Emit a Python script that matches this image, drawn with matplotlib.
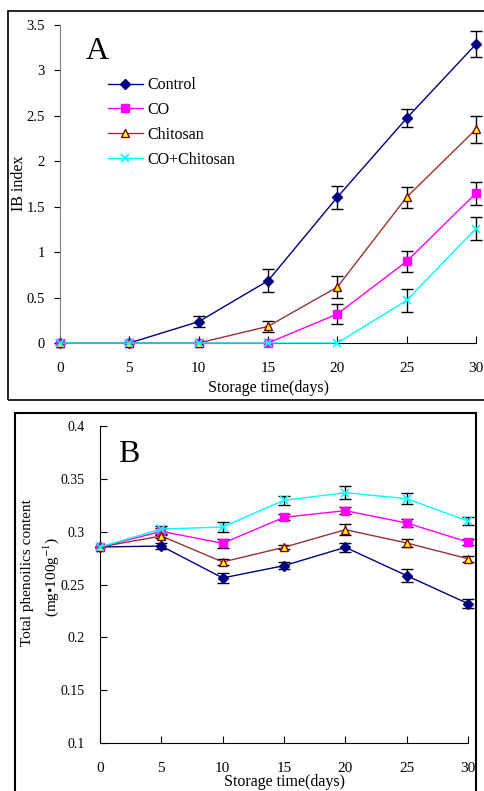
import numpy as np
import matplotlib
matplotlib.use('Agg')
import matplotlib.pyplot as plt
from matplotlib.patches import Rectangle

plt.rcParams['font.family'] = ['Liberation Serif', 'DejaVu Serif']
plt.rcParams['mathtext.fontset'] = 'stix'

days = [0, 5, 10, 15, 20, 25, 30]
labels = ['Control', 'CO', 'Chitosan', 'CO+Chitosan']

# panel A: IB index
ib_control = [0, 0, 0.235, 0.685, 1.605, 2.474, 3.29]
ib_co = [0, 0, 0, 0, 0.319, 0.898, 1.649]
ib_chitosan = [0, 0, 0, 0.183, 0.616, 1.605, 2.353]
ib_combo = [0, 0, 0, 0, 0, 0.469, 1.26]
ib_control_err = [0, 0, 0.064, 0.128, 0.125, 0.10, 0.147]
ib_co_err = [0, 0, 0, 0, 0.106, 0.114, 0.126]
ib_chitosan_err = [0, 0, 0, 0.06, 0.12, 0.114, 0.15]
ib_combo_err = [0, 0, 0, 0, 0, 0.128, 0.13]

# panel B: total phenolics
tp_control = [0.2855, 0.2864, 0.2562, 0.2678, 0.2852, 0.2584, 0.2319]
tp_co = [0.2855, 0.3003, 0.289, 0.3136, 0.3199, 0.3082, 0.2902]
tp_chitosan = [0.2855, 0.2959, 0.2713, 0.2852, 0.3019, 0.2893, 0.2744]
tp_combo = [0.2855, 0.3025, 0.3044, 0.3297, 0.3369, 0.3312, 0.3101]
tp_control_err = [0, 0.0025, 0.005, 0.0035, 0.0044, 0.006, 0.0044]
tp_co_err = [0, 0.003, 0.004, 0.003, 0.003, 0.004, 0.003]
tp_chitosan_err = [0, 0.002, 0.003, 0.002, 0.005, 0.004, 0.003]
tp_combo_err = [0, 0.003, 0.005, 0.004, 0.006, 0.005, 0.004]

styles = [
    dict(color='#000080', marker='D', mfc='#000080', mec='#000080', ms=5),
    dict(color='#FF00FF', marker='s', mfc='#FF00FF', mec='#FF00FF', ms=5.5),
    dict(color='#993333', marker='^', mfc='#FFFF00', mec='#800000', ms=6),
    dict(color='#00FFFF', marker='x', mfc='#00FFFF', mec='#00FFFF', ms=6, mew=1.2),
]

W, H = 484, 791
fig = plt.figure(figsize=(W / 100, H / 100), dpi=100)


def px(x0, y0, x1, y1):
    return [x0 / W, 1 - y1 / H, (x1 - x0) / W, (y1 - y0) / H]


# outer frames
fig.patches.append(Rectangle((8 / W, 1 - 400 / H), 490 / W, 389 / H,
                             transform=fig.transFigure, fill=False,
                             ec='black', lw=1.2))
fig.patches.append(Rectangle((15 / W, 1 - 800 / H), 461 / W, 387 / H,
                             transform=fig.transFigure, fill=False,
                             ec='black', lw=1.5))


def draw(ax, series, errs):
    for y, e, st, lab in zip(series, errs, styles, labels):
        y = np.array(y)
        e = np.array(e)
        m = e > 0
        x = np.array(days)
        ax.errorbar(x[m], y[m], yerr=e[m], fmt='none', ecolor='black',
                    elinewidth=1, capsize=4, capthick=1, clip_on=False,
                    zorder=2)
        ax.plot(days, y, lw=1, label=lab, clip_on=False, zorder=3, **st)
    for s in ['top', 'right']:
        ax.spines[s].set_visible(False)
    ax.set_xlim(0, 30)
    ax.set_xticks(days)


# ---- panel A ----
axA = fig.add_axes(px(60, 25, 476, 343))
draw(axA, [ib_control, ib_co, ib_chitosan, ib_combo],
     [ib_control_err, ib_co_err, ib_chitosan_err, ib_combo_err])
axA.set_ylim(0, 3.5)
axA.set_yticks(np.arange(0, 3.51, 0.5))
axA.set_yticklabels(['0', '0.5', '1', '1.5', '2', '2.5', '3', '3.5'])
axA.spines['left'].set_color('gray')
axA.tick_params(axis='x', direction='in', length=5, pad=14, labelsize=11)
axA.tick_params(axis='y', direction='out', length=4, pad=7, labelsize=10.5)
axA.text(0.062, 0.893, 'A', transform=axA.transAxes, fontsize=23)
axA.legend(loc='upper left', bbox_to_anchor=(0.115, 0.836), frameon=False,
           fontsize=11.5, handlelength=2.2, labelspacing=0.55,
           handletextpad=0.3, borderpad=0, borderaxespad=0)
fig.text(268 / W, 1 - 388 / H, 'Storage time(days)', ha='center',
         va='center', fontsize=11.5)
fig.text(19 / W, 1 - 183 / H, 'IB index', ha='center', va='center',
         rotation=90, fontsize=11.5)

# ---- panel B ----
axB = fig.add_axes(px(100, 426, 468, 743))
draw(axB, [tp_control, tp_co, tp_chitosan, tp_combo],
     [tp_control_err, tp_co_err, tp_chitosan_err, tp_combo_err])
axB.set_ylim(0.1, 0.4)
axB.set_yticks([0.1, 0.15, 0.2, 0.25, 0.3, 0.35, 0.4])
axB.set_yticklabels(['0.1', '0.15', '0.2', '0.25', '0.3', '0.35', '0.4'])
axB.tick_params(axis='x', direction='in', length=5, pad=14, labelsize=11)
axB.tick_params(axis='y', direction='in', length=5, pad=11, labelsize=10)
axB.text(0.049, 0.886, 'B', transform=axB.transAxes, fontsize=23)
fig.text(284 / W, 1 - 782 / H, 'Storage time(days)', ha='center',
         va='center', fontsize=11.5)
fig.text(28 / W, 1 - 573 / H, 'Total phenoilics content', ha='center',
         va='center', rotation=90, fontsize=11)
fig.text(51 / W, 1 - 577 / H, '(mg\u2022100g$^{-1}$)', ha='center',
         va='center', rotation=90, fontsize=11)

fig.savefig('out.png', dpi=100)
